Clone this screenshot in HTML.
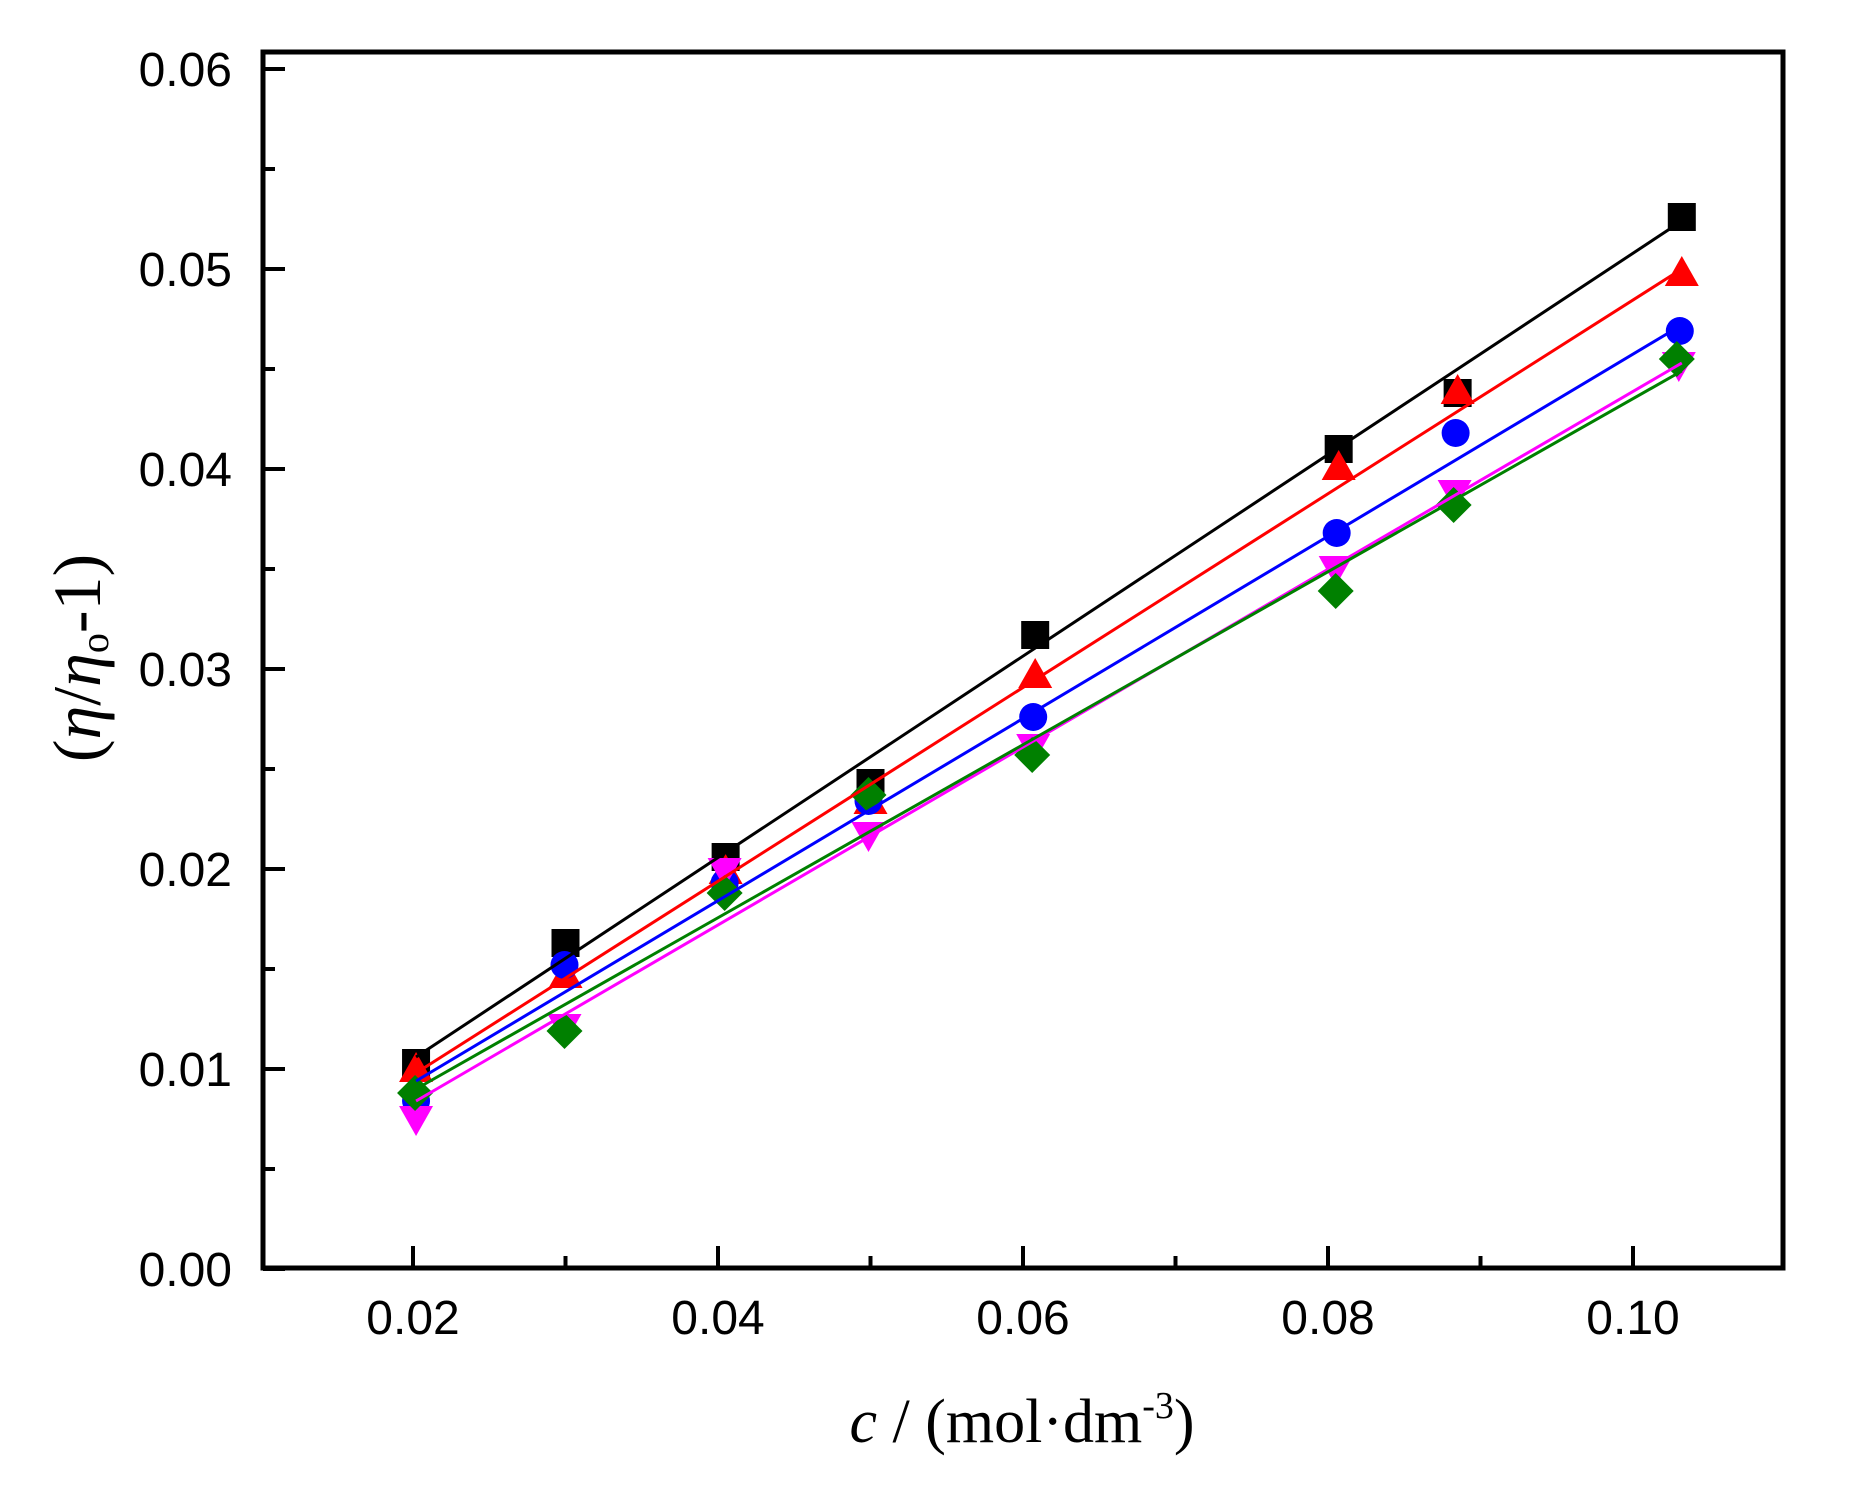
<!DOCTYPE html>
<html><head><meta charset="utf-8"><style>
html,body{margin:0;padding:0;background:#fff;}
svg{display:block;}
</style></head><body>
<svg id="s" width="1850" height="1490" xmlns="http://www.w3.org/2000/svg">
<rect width="1850" height="1490" fill="#fff"/>
<g id="data"></g>
<rect x="263" y="52" width="1520" height="1216" fill="none" stroke="#000" stroke-width="5"/>
<g id="ticks" stroke="#000" stroke-width="4"></g>
<g id="labels" font-family="Liberation Sans, sans-serif" font-size="48" fill="#000"></g>
<text x="1022" y="1442" text-anchor="middle" font-family="Liberation Serif, serif" font-size="62"><tspan font-style="italic">c</tspan> / (mol·dm<tspan dy="-24" font-size="38">-3</tspan><tspan dy="24">)</tspan></text>
<text transform="translate(100,658) rotate(-90)" text-anchor="middle" font-family="Liberation Serif, serif" font-size="68">(<tspan font-style="italic">η</tspan>/<tspan font-style="italic">η</tspan><tspan font-size="40" dy="8">o</tspan><tspan dy="-8">-1)</tspan></text>
</svg>
<script>
var NS="http://www.w3.org/2000/svg";
function X(v){return 413+(v-0.02)*15250;}
function Y(v){return 1269-v*20000;}
function el(t,a,p){var e=document.createElementNS(NS,t);for(var k in a)e.setAttribute(k,a[k]);p.appendChild(e);return e;}
var tk=document.getElementById('ticks'),lb=document.getElementById('labels'),dg=document.getElementById('data');
for(var i=0;i<=12;i++){var v=i*0.005,y=Y(v),len=i%2==0?22:12;
 el('line',{x1:263,y1:y,x2:263+len,y2:y},tk);
 if(i%2==0){var t=el('text',{x:232,y:y+17,'text-anchor':'end'},lb);t.textContent=v.toFixed(2);}}
[0.03,0.05,0.07,0.09].forEach(function(v){var x=X(v);
 el('line',{x1:x,y1:1268,x2:x,y2:1268-12},tk);});
for(var i=0;i<5;i++){var v=0.02+i*0.02,x=X(v);
 el('line',{x1:x,y1:1268,x2:x,y2:1268-22},tk);
 var t=el('text',{x:x,y:1334,'text-anchor':'middle'},lb);t.textContent=v.toFixed(2);}
var xs=[0.0202,0.0300,0.0405,0.0500,0.0608,0.0807,0.0885,0.1032];
var S=[
 {c:'#000',m:'sq',y:[0.0103,0.0163,0.0206,0.0243,0.0317,0.0410,0.0438,0.0526],l:[0.0106,0.0524]},
 {c:'#ff0000',m:'up',y:[0.0100,0.0147,0.0199,0.0234,0.0297,0.0401,0.0439,0.0498],l:[0.0098,0.0500]},
 {c:'#0000ff',m:'ci',y:[0.0084,0.0152,0.0193,0.0234,0.0276,0.0368,0.0418,0.0469],l:[0.0094,0.0472]},
 {c:'#ff00ff',m:'dn',y:[0.0075,0.0121,0.0199,0.0217,0.0261,0.0350,0.0388,0.0452],l:[0.0084,0.0453]},
 {c:'#008000',m:'di',y:[0.0088,0.0119,0.0188,0.0237,0.0257,0.0339,0.0382,0.0455],l:[0.0090,0.0449]}
];
var xo=[[0,0,0,0,0,0,0,0],[0,0,0,0,0,0,0,0],[0,-1,-1,-2,-2,-2,-2,-2],[0,-1,-1,-2,-2,-3,-3,-3],[-1,-1,-1,-2,-3,-3,-4,-5]];
S.forEach(function(s,k){
 s.y.forEach(function(v,j){var x=X(xs[j])+xo[k][j],y=Y(v),r=14;
  if(s.m=='sq')el('rect',{x:x-r,y:y-r,width:2*r,height:2*r,fill:s.c},dg);
  else if(s.m=='ci')el('circle',{cx:x,cy:y,r:r,fill:s.c},dg);
  else if(s.m=='up')el('polygon',{points:(x)+','+(y-17)+' '+(x-17)+','+(y+13)+' '+(x+17)+','+(y+13),fill:s.c},dg);
  else if(s.m=='dn')el('polygon',{points:(x)+','+(y+17)+' '+(x-17)+','+(y-13)+' '+(x+17)+','+(y-13),fill:s.c},dg);
  else el('polygon',{points:x+','+(y-18)+' '+(x+18)+','+y+' '+x+','+(y+18)+' '+(x-18)+','+y,fill:s.c},dg);
 });
});
S.forEach(function(s){
 el('line',{x1:X(0.0202),y1:Y(s.l[0]),x2:X(0.1032),y2:Y(s.l[1]),stroke:s.c,'stroke-width':3},dg);
});
</script>
</body></html>
